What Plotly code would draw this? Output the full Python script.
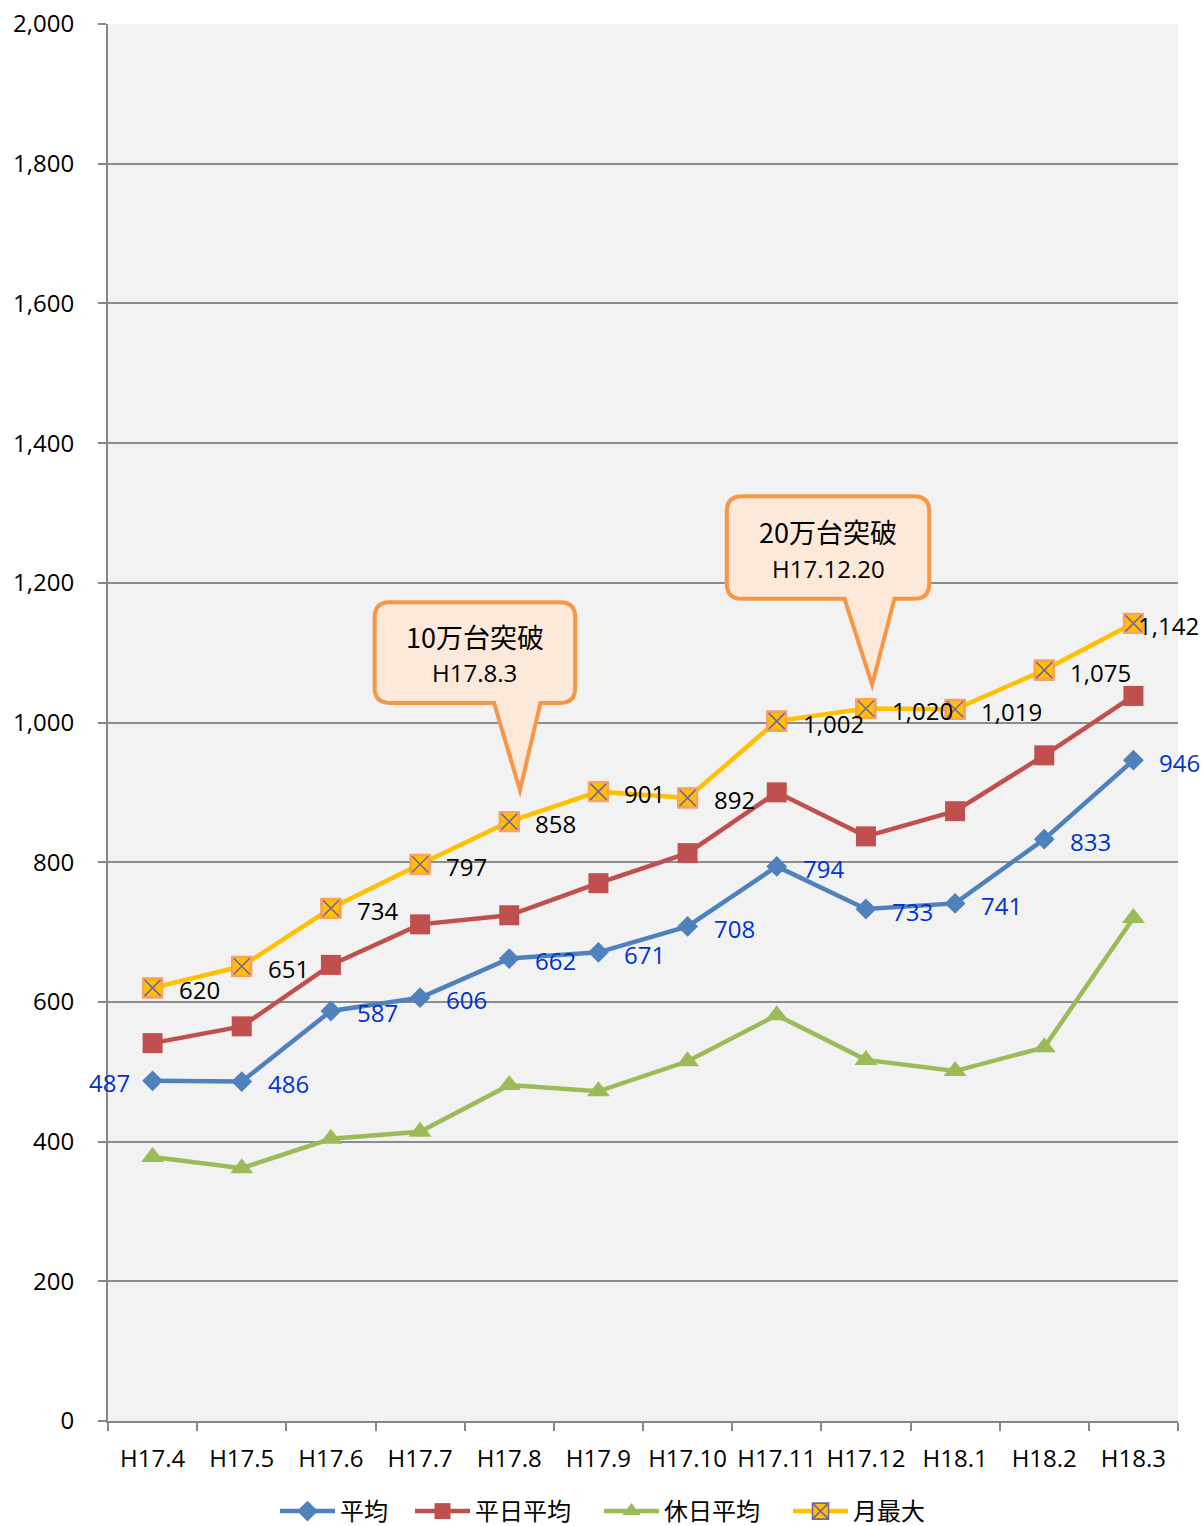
import plotly.graph_objects as go

categories = ["H17.4", "H17.5", "H17.6", "H17.7", "H17.8", "H17.9",
              "H17.10", "H17.11", "H17.12", "H18.1", "H18.2", "H18.3"]
avg_all = [487, 486, 587, 606, 662, 671, 708, 794, 733, 741, 833, 946]
avg_weekday = [541, 565, 653, 711, 724, 770, 813, 900, 837, 873, 953, 1038]
avg_holiday = [378, 362, 404, 414, 481, 472, 515, 581, 517, 501, 535, 720]
monthly_max = [620, 651, 734, 797, 858, 901, 892, 1002, 1020, 1019, 1075, 1142]
y_ticks = [0, 200, 400, 600, 800, 1000, 1200, 1400, 1600, 1800, 2000]

callouts = [
    {"lines": ["10万台突破", "H17.8.3"], "box": (2.49, 4.74, 1028, 1172), "tail": (3.83, 4.12, 903, 4.35)},
    {"lines": ["20万台突破", "H17.12.20"], "box": (6.44, 8.71, 1177, 1324), "tail": (7.76, 8.07, 1054, 8.32)},
]

BLUE = "#4F81BD"
RED = "#C0504D"
GREEN = "#9BBB59"
YELLOW = "#FFC000"
PURPLE = "#7A62A3"
LABEL_BLUE = "#0033CC"
FONT = "Open Sans, Noto Sans CJK JP, sans-serif"
JFONT = "Noto Sans CJK JP, sans-serif"

fig = go.Figure()

fig.add_trace(go.Scatter(
    x=categories, y=avg_all, name="平均", mode="lines+markers", legend="legend",
    line=dict(color=BLUE, width=4.5), marker=dict(symbol="diamond", size=16, color=BLUE),
))
fig.add_trace(go.Scatter(
    x=categories, y=avg_weekday, name="平日平均", mode="lines+markers", legend="legend2",
    line=dict(color=RED, width=4.5), marker=dict(symbol="square", size=20, color=RED),
))
fig.add_trace(go.Scatter(
    x=categories, y=avg_holiday, name="休日平均", mode="lines+markers", legend="legend3",
    line=dict(color=GREEN, width=4.5), marker=dict(symbol="triangle-up", size=20, color=GREEN),
))
fig.add_trace(go.Scatter(
    x=categories, y=monthly_max, name="月最大", mode="lines+markers", legend="legend4",
    legendgroup="max",
    line=dict(color=YELLOW, width=4.5),
    marker=dict(symbol="square-x", size=19, color=YELLOW, line=dict(color=PURPLE, width=1.6)),
))
fig.add_trace(go.Scatter(
    x=categories, y=monthly_max, name="月最大", mode="markers", legendgroup="max",
    showlegend=False, hoverinfo="skip",
    marker=dict(symbol="square-open", size=19, line=dict(color=YELLOW, width=2.2)),
))

annotations = []
n = len(categories)
for i, (c, v) in enumerate(zip(categories, avg_all)):
    left = i == 0
    annotations.append(dict(x=c, y=v, xref="x", yref="y", text=f"{v:,}", showarrow=False,
                            xanchor="right" if left else "left", yanchor="middle",
                            xshift=-21 if left else 24, yshift=-2,
                            font=dict(size=24, family=FONT, color=LABEL_BLUE)))
for i, (c, v) in enumerate(zip(categories, monthly_max)):
    last = i == n - 1
    annotations.append(dict(x=c, y=v, xref="x", yref="y", text=f"{v:,}", showarrow=False,
                            xanchor="left", yanchor="middle", xshift=3 if last else 24, yshift=-2,
                            font=dict(size=24, family=FONT, color="black")))

shapes = []
for c in callouts:
    x0, x1, y0, y1 = c["box"]
    tl, tip, ty, tr = c["tail"]
    rx, ry = 0.17, 22
    path = (f"M {x0+rx},{y1} L {x1-rx},{y1} Q {x1},{y1} {x1},{y1-ry} "
            f"L {x1},{y0+ry} Q {x1},{y0} {x1-rx},{y0} "
            f"L {tr},{y0} L {tip},{ty} L {tl},{y0} "
            f"L {x0+rx},{y0} Q {x0},{y0} {x0},{y0+ry} "
            f"L {x0},{y1-ry} Q {x0},{y1} {x0+rx},{y1} Z")
    shapes.append(dict(type="path", xref="x", yref="y", path=path,
                       fillcolor="#FDE9D9", line=dict(color="#F79646", width=4), layer="above"))
    xc = (x0 + x1) / 2
    annotations.append(dict(x=xc, y=y1 - 0.34 * (y1 - y0), xref="x", yref="y",
                            text=c["lines"][0], showarrow=False,
                            font=dict(size=27, family=JFONT, color="black")))
    annotations.append(dict(x=xc, y=y1 - 0.70 * (y1 - y0), xref="x", yref="y",
                            text=c["lines"][1], showarrow=False,
                            font=dict(size=24, family=FONT, color="black")))


def legend_at(px_left):
    return dict(orientation="h", xref="container", x=px_left / 1202, xanchor="left",
                yref="container", y=0.0095, yanchor="middle",
                bgcolor="rgba(0,0,0,0)",
                font=dict(family=JFONT, size=24), itemwidth=55)


fig.update_layout(
    width=1202, height=1526,
    margin=dict(l=108, r=24, t=24, b=105, autoexpand=False),
    paper_bgcolor="white", plot_bgcolor="#F2F2F2",
    font=dict(family=FONT, size=24, color="black"),
    showlegend=True,
    legend=legend_at(275), legend2=legend_at(410), legend3=legend_at(599), legend4=legend_at(788),
    shapes=shapes, annotations=annotations,
)
fig.update_xaxes(
    type="category", range=[-0.5, 11.5], showgrid=False, automargin=False,
    showline=True, linecolor="#868686", linewidth=2,
    ticks="outside", tickson="boundaries", ticklen=8, tickcolor="#868686", tickwidth=2,
    tickfont=dict(size=24, family=FONT), ticklabelstandoff=15,
)
fig.update_yaxes(
    range=[0, 2000], tickvals=y_ticks, ticktext=[f"{v:,}" for v in y_ticks], automargin=False,
    showgrid=True, gridcolor="#8C8C8C", gridwidth=2, zeroline=False,
    showline=True, linecolor="#868686", linewidth=2,
    ticks="outside", ticklen=8, tickcolor="#868686", tickwidth=2,
    tickfont=dict(size=24, family=FONT), ticklabelstandoff=19,
)

fig.write_html("out.html", config={"displayModeBar": False},
               post_script="document.body.style.margin='0';document.body.style.padding='0';")
